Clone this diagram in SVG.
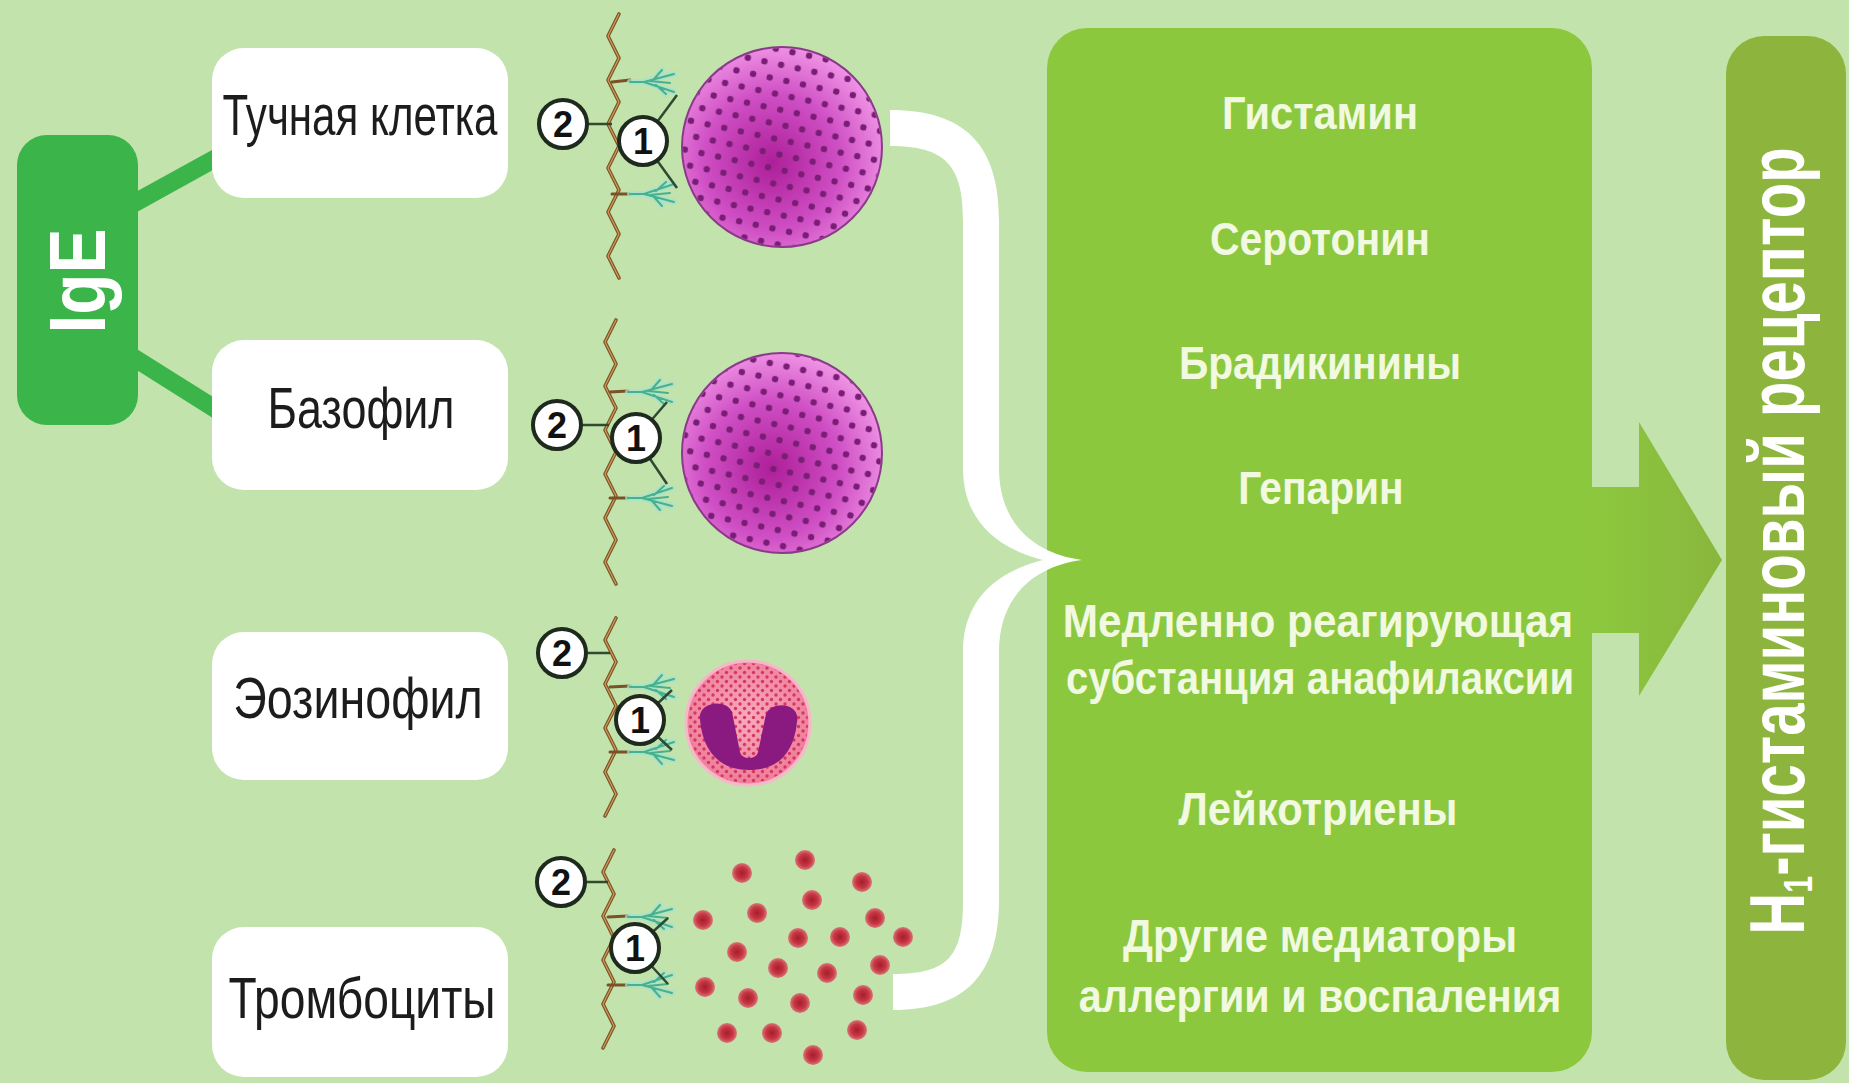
<svg xmlns="http://www.w3.org/2000/svg" width="1849" height="1083" viewBox="0 0 1849 1083">
<style>
.label-box{fill:#ffffff}
.label{font-family:"Liberation Sans",Arial,sans-serif;font-size:58px;fill:#1c1c1c;text-anchor:middle}
.med{font-family:"Liberation Sans",Arial,sans-serif;font-weight:bold;font-size:46px;fill:#f2f9e1;text-anchor:middle}
.vert{font-family:"Liberation Sans",Arial,sans-serif;font-weight:bold;fill:#ffffff;text-anchor:middle}
.num-c{fill:#ffffff;stroke:#1d2a1d;stroke-width:4}
.num{font-family:"Liberation Sans",Arial,sans-serif;font-weight:bold;font-size:36px;fill:#111111;text-anchor:middle}
.ptr{stroke:#2f4a2f;stroke-width:2.5;fill:none}
.mem-dark{fill:none;stroke:#7a5226;stroke-width:3.6;stroke-linejoin:round;stroke-linecap:round}
.mem-light{fill:none;stroke:#d39c58;stroke-width:1.2;stroke-linejoin:round;stroke-linecap:round}
.ab-fuzz{fill:none;stroke:#a6e2cc;stroke-width:6;stroke-linecap:round;opacity:.75}
.ab{fill:none;stroke:#47b08e;stroke-width:2;stroke-linecap:round}
.stalk{fill:none;stroke:#7a5226;stroke-width:3;stroke-linecap:round}
.link{stroke:#3bb44a;stroke-width:18;fill:none}
.plt{fill:url(#plt)}
</style>
<defs>
  <radialGradient id="mast" cx="45%" cy="58%" r="62%">
    <stop offset="0" stop-color="#ad1f99"/>
    <stop offset="0.55" stop-color="#cf4fc4"/>
    <stop offset="1" stop-color="#f39be9"/>
  </radialGradient>
  <!-- hexagonal granule lattice -->
  <pattern id="granules" patternUnits="userSpaceOnUse" width="17" height="29.4" patternTransform="rotate(12)">
    <circle cx="4" cy="4" r="3.2" fill="#7a1d76"/>
    <circle cx="12.5" cy="18.7" r="3.2" fill="#7a1d76"/>
  </pattern>
  <radialGradient id="eos" cx="50%" cy="45%" r="55%">
    <stop offset="0" stop-color="#f8a9be"/>
    <stop offset="1" stop-color="#ee7d9c"/>
  </radialGradient>
  <pattern id="eosDots" patternUnits="userSpaceOnUse" width="9" height="9">
    <circle cx="2" cy="2" r="1.7" fill="#d5385a"/>
    <circle cx="6.5" cy="6.5" r="1.7" fill="#d5385a"/>
  </pattern>
  <radialGradient id="plt">
    <stop offset="0" stop-color="#a81c2c"/>
    <stop offset="0.6" stop-color="#c53843"/>
    <stop offset="1" stop-color="#dc7479"/>
  </radialGradient>
  <linearGradient id="arrowGrad" gradientUnits="userSpaceOnUse" x1="1592" y1="0" x2="1722" y2="0">
    <stop offset="0" stop-color="#8cc83e"/>
    <stop offset="1" stop-color="#89b63d"/>
  </linearGradient>
  <clipPath id="linkGap">
    <rect x="100" y="0" width="112" height="1083"/>
  </clipPath>
  <!-- wavy membrane strands -->
  <g id="memL">
    <path class="mem-dark" d="M6,0 l-11,22 l11,22 l-11,22 l11,22 l-11,22 l11,22 l-11,22 l11,22 l-11,22 l11,22 l-11,22 l11,22"/>
    <path class="mem-light" d="M6,0 l-11,22 l11,22 l-11,22 l11,22 l-11,22 l11,22 l-11,22 l11,22 l-11,22 l11,22 l-11,22 l11,22"/>
  </g>
  <g id="memS">
    <path class="mem-dark" d="M6,0 l-11,22 l11,22 l-11,22 l11,22 l-11,22 l11,22 l-11,22 l11,22 l-11,22"/>
    <path class="mem-light" d="M6,0 l-11,22 l11,22 l-11,22 l11,22 l-11,22 l11,22 l-11,22 l11,22 l-11,22"/>
  </g>
  <!-- receptor-bound antibody -->
  <g id="ab">
    <path class="ab-fuzz" d="M0,0 L14,0 L44,-8 M14,0 L44,10 M24,-3 L32,-12 M26,3 L36,12"/>
    <path class="ab" d="M0,0 L14,0 L44,-8 M14,0 L44,10 M24,-3 L32,-12 M26,3 L36,12 M20,-1 L40,1"/>
  </g>
</defs>

<rect width="1849" height="1083" fill="#c3e3ad"/>

<!-- IgE -->
<g id="node-ige">
  <rect x="17" y="135" width="121" height="290" rx="30" fill="#3bb44a"/>
  <text class="vert" font-size="79" transform="translate(105,281) rotate(-90) scale(0.854,1)" textLength="123" lengthAdjust="spacingAndGlyphs">IgE</text>
</g>

<!-- cell label boxes -->
<g id="node-mast">
  <rect class="label-box" x="212" y="48" width="296" height="150" rx="32"/>
  <text class="label" transform="translate(360,135) scale(0.72,1)" textLength="382" lengthAdjust="spacingAndGlyphs">Тучная клетка</text>
</g>
<g id="node-basophil">
  <rect class="label-box" x="212" y="340" width="296" height="150" rx="32"/>
  <text class="label" transform="translate(361,428) scale(0.77,1)" textLength="243" lengthAdjust="spacingAndGlyphs">Базофил</text>
</g>
<g id="node-eosinophil">
  <rect class="label-box" x="212" y="632" width="296" height="148" rx="32"/>
  <text class="label" transform="translate(358,718) scale(0.80,1)" textLength="312" lengthAdjust="spacingAndGlyphs">Эозинофил</text>
</g>
<g id="node-platelets">
  <rect class="label-box" x="212" y="927" width="296" height="150" rx="32"/>
  <text class="label" transform="translate(362,1018) scale(0.79,1)" textLength="338" lengthAdjust="spacingAndGlyphs">Тромбоциты</text>
</g>

<!-- mast cell with bound IgE -->
<g id="cell-mast">
  <use href="#memL" x="613" y="14"/>
  <path class="stalk" d="M612,82 L630,80 M612,194 L630,194"/>
  <use href="#ab" x="630" y="82"/>
  <use href="#ab" transform="translate(630,194) scale(1,-1)"/>
  <path class="ptr" d="M563,124 L612,124 M643,141 L677,95 M643,141 L677,188"/>
  <circle class="num-c" cx="563" cy="124" r="24"/>
  <text class="num" x="563" y="137">2</text>
  <circle class="num-c" cx="643" cy="141" r="24"/>
  <text class="num" x="643" y="154">1</text>
  <circle cx="782" cy="147" r="100" fill="url(#mast)" stroke="#8b3a8a" stroke-width="2"/>
  <circle cx="782" cy="147" r="99" fill="url(#granules)"/>
</g>

<!-- basophil -->
<g id="cell-basophil">
  <use href="#memL" x="610" y="320"/>
  <path class="stalk" d="M610,392 L628,391 M610,498 L628,498"/>
  <use href="#ab" x="628" y="392"/>
  <use href="#ab" transform="translate(628,498) scale(1,-1)"/>
  <path class="ptr" d="M557,425 L609,425 M636,438 L667,402 M636,438 L667,484"/>
  <circle class="num-c" cx="557" cy="425" r="24"/>
  <text class="num" x="557" y="438">2</text>
  <circle class="num-c" cx="636" cy="438" r="24"/>
  <text class="num" x="636" y="451">1</text>
  <circle cx="782" cy="453" r="100" fill="url(#mast)" stroke="#8b3a8a" stroke-width="2"/>
  <circle cx="782" cy="453" r="99" fill="url(#granules)"/>
</g>

<!-- eosinophil -->
<g id="cell-eosinophil">
  <use href="#memS" x="610" y="618"/>
  <path class="stalk" d="M610,687 L630,686 M610,752 L630,752"/>
  <use href="#ab" x="630" y="687"/>
  <use href="#ab" transform="translate(630,752) scale(1,-1)"/>
  <path class="ptr" d="M562,653 L610,653 M640,720 L672,690 M640,720 L672,750"/>
  <circle class="num-c" cx="562" cy="653" r="24"/>
  <text class="num" x="562" y="666">2</text>
  <circle class="num-c" cx="640" cy="720" r="24"/>
  <text class="num" x="640" y="733">1</text>
  <circle cx="748" cy="723" r="62" fill="url(#eos)" stroke="#f7b6c9" stroke-width="3"/>
  <circle cx="748" cy="723" r="60" fill="url(#eosDots)"/>
  <!-- bilobed nucleus -->
  <path d="M700,720 C697,702 726,698 732,712 L740,752 C742,760 756,760 758,752 L766,714 C772,700 801,703 797,722 C794,753 778,770 749,770 C720,770 703,752 700,720 Z" fill="#8b1a80"/>
</g>

<!-- platelets -->
<g id="cell-platelets">
  <use href="#memS" x="608" y="850"/>
  <path class="stalk" d="M608,917 L628,916 M608,985 L628,985"/>
  <use href="#ab" x="628" y="917"/>
  <use href="#ab" transform="translate(628,985) scale(1,-1)"/>
  <path class="ptr" d="M561,882 L608,882 M635,948 L668,918 M635,948 L668,984"/>
  <circle class="num-c" cx="561" cy="882" r="24"/>
  <text class="num" x="561" y="895">2</text>
  <circle class="num-c" cx="635" cy="948" r="24"/>
  <text class="num" x="635" y="961">1</text>
  <circle class="plt" cx="805" cy="860" r="10"/>
  <circle class="plt" cx="742" cy="873" r="10"/>
  <circle class="plt" cx="862" cy="882" r="10"/>
  <circle class="plt" cx="812" cy="900" r="10"/>
  <circle class="plt" cx="757" cy="913" r="10"/>
  <circle class="plt" cx="875" cy="918" r="10"/>
  <circle class="plt" cx="703" cy="920" r="10"/>
  <circle class="plt" cx="798" cy="938" r="10"/>
  <circle class="plt" cx="840" cy="937" r="10"/>
  <circle class="plt" cx="903" cy="937" r="10"/>
  <circle class="plt" cx="737" cy="952" r="10"/>
  <circle class="plt" cx="778" cy="968" r="10"/>
  <circle class="plt" cx="827" cy="973" r="10"/>
  <circle class="plt" cx="880" cy="965" r="10"/>
  <circle class="plt" cx="705" cy="987" r="10"/>
  <circle class="plt" cx="748" cy="998" r="10"/>
  <circle class="plt" cx="800" cy="1003" r="10"/>
  <circle class="plt" cx="863" cy="995" r="10"/>
  <circle class="plt" cx="727" cy="1033" r="10"/>
  <circle class="plt" cx="772" cy="1033" r="10"/>
  <circle class="plt" cx="857" cy="1030" r="10"/>
  <circle class="plt" cx="813" cy="1055" r="10"/>
</g>

<!-- released mediators -->
<g id="node-mediators">
  <rect x="1047" y="28" width="545" height="1044" rx="40" fill="#8cc83e"/>
  <text class="med" transform="translate(1320,129) scale(0.895,1)" textLength="219" lengthAdjust="spacingAndGlyphs">Гистамин</text>
  <text class="med" transform="translate(1320,255) scale(0.88,1)" textLength="250" lengthAdjust="spacingAndGlyphs">Серотонин</text>
  <text class="med" transform="translate(1320,379) scale(0.89,1)" textLength="317" lengthAdjust="spacingAndGlyphs">Брадикинины</text>
  <text class="med" transform="translate(1321,504) scale(0.87,1)" textLength="190" lengthAdjust="spacingAndGlyphs">Гепарин</text>
  <text class="med" transform="translate(1318,637) scale(0.92,1)" textLength="555" lengthAdjust="spacingAndGlyphs">Медленно реагирующая</text>
  <text class="med" transform="translate(1320,694) scale(0.87,1)" textLength="584" lengthAdjust="spacingAndGlyphs">субстанция анафилаксии</text>
  <text class="med" transform="translate(1318,825) scale(0.90,1)" textLength="310" lengthAdjust="spacingAndGlyphs">Лейкотриены</text>
  <text class="med" transform="translate(1320,952) scale(0.91,1)" textLength="433" lengthAdjust="spacingAndGlyphs">Другие медиаторы</text>
  <text class="med" transform="translate(1320,1012) scale(0.90,1)" textLength="536" lengthAdjust="spacingAndGlyphs">аллергии и воспаления</text>
</g>

<!-- H1 receptor -->
<g id="node-receptor">
  <rect x="1726" y="36" width="120" height="1044" rx="38" fill="#8db43d"/>
  <text class="vert" font-size="77" transform="translate(1804,541) rotate(-90) scale(0.757,1)" textLength="1040" lengthAdjust="spacingAndGlyphs">H<tspan font-size="40" dy="8">1</tspan><tspan dy="-8">-гистаминовый рецептор</tspan></text>
</g>

<!-- connectors -->
<g id="connectors">
  <g clip-path="url(#linkGap)">
    <path class="link" d="M120,211 L225,153"/>
    <path class="link" d="M120,349 L225,415"/>
  </g>
  <path d="M890,110 C965,110 999,145 999,220 L999,468 C999,520 1030,553 1082,560 C1030,567 999,600 999,652 L999,900 C999,975 965,1010 893,1010 L893,974 C950,974 963,955 963,900 L963,652 C963,610 985,575 1043,560 C985,545 963,510 963,468 L963,220 C963,165 945,146 890,146 Z" fill="#ffffff"/>
  <polygon points="1585,487 1639,487 1639,422 1722,560 1639,696 1639,633 1585,633" fill="url(#arrowGrad)"/>
</g>
</svg>
